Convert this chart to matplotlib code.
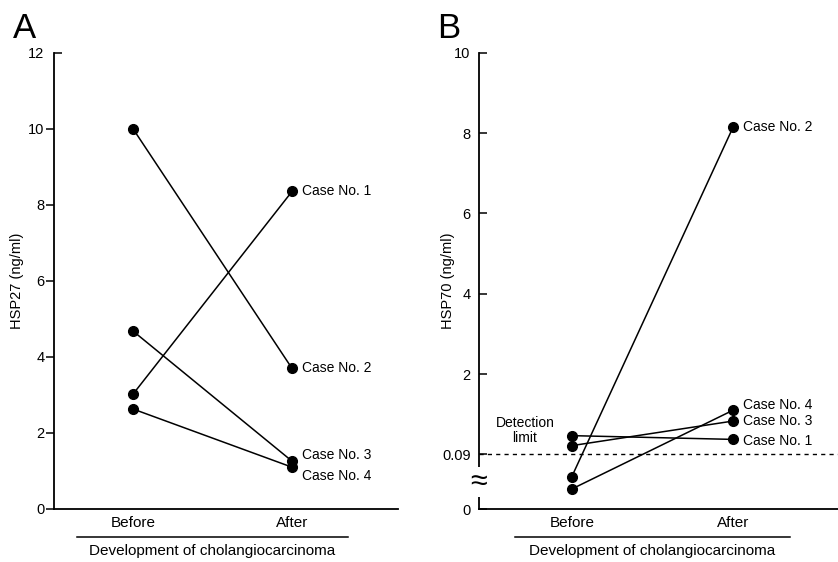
import numpy as np
import matplotlib
matplotlib.use('Agg')
import matplotlib.pyplot as plt
from matplotlib.ticker import FixedLocator, NullLocator
import matplotlib.transforms as mtransforms

plt.rcParams['font.family'] = ['Liberation Sans', 'DejaVu Sans']

# ---- data ----
stages = ['Before', 'After']
cases = ['Case No. 1', 'Case No. 2', 'Case No. 3', 'Case No. 4']

hsp27_before = [3.02, 10.0, 4.68, 2.63]
hsp27_after = [8.35, 3.70, 1.26, 1.10]

hsp70_before = [0.53, 0.053, 0.29, 0.033]
hsp70_after = [0.44, 8.15, 0.88, 1.14]

detection_limit = 0.09

hsp27_ticks = [0, 2, 4, 6, 8, 10]
hsp27_top = 12
hsp70_ticks = [0, 0.09, 2, 4, 6, 8, 10]
hsp70_ticklabels = ['0', '0.09', '2', '4', '6', '8', '10']

xlabel = 'Development of cholangiocarcinoma'

# label offsets (points) for the case names
offs_a = {'Case No. 1': 0, 'Case No. 2': 0, 'Case No. 3': 4.5, 'Case No. 4': -6.5}
offs_b = {'Case No. 1': -1.5, 'Case No. 2': 0, 'Case No. 3': 0, 'Case No. 4': 3.5}

# broken axis for panel B: 0-0.09 gets its own short segment
knots_v = [-10, 0, 0.09, 2, 10, 30]
knots_u = [-6144, 0, 55.3, 135, 456.6, 1260.6]


def fwd(v):
    return np.interp(v, knots_v, knots_u)


def inv(u):
    return np.interp(u, knots_u, knots_v)


fig = plt.figure(figsize=(8.38, 5.62), dpi=100)
axA = fig.add_axes([54 / 838, 1 - 509 / 562, 344 / 838, 456.3 / 562])
axB = fig.add_axes([479 / 838, 1 - 509.3 / 562, 359 / 838, 456.6 / 562])

x = np.arange(len(stages))


def style(ax):
    for s in ['top', 'right']:
        ax.spines[s].set_visible(False)
    for s in ['left', 'bottom']:
        ax.spines[s].set_linewidth(1.3)
    ax.set_xticks(x)
    ax.set_xticklabels(stages, fontsize=11)
    ax.tick_params(axis='x', length=0, pad=5)
    ax.yaxis.set_minor_locator(NullLocator())


def draw_cases(ax, before, after, offs):
    for name, b, a in zip(cases, before, after):
        ax.plot(x, [b, a], color='black', lw=1.1, marker='o', ms=7,
                clip_on=False, zorder=3)
        ax.annotate(name, (x[1], a), xytext=(7, offs[name]),
                    textcoords='offset points', ha='left', va='center',
                    fontsize=10)


def bottom_label(ax):
    tr = mtransforms.blended_transform_factory(ax.transData, ax.transAxes)
    ax.plot([-0.35, 1.35], [-0.0614, -0.0614], color='black', lw=1.1,
            transform=tr, clip_on=False)
    ax.text(0.5, -0.092, xlabel, transform=tr, ha='center', va='center',
            fontsize=11)


# ---- panel A ----
style(axA)
draw_cases(axA, hsp27_before, hsp27_after, offs_a)
axA.set_xlim(-0.497, 1.667)
axA.set_ylim(0, hsp27_top)
axA.set_yticks(hsp27_ticks)
axA.tick_params(axis='y', direction='out', length=5.5, width=1.1,
                labelsize=10.5, pad=1.5)
# top of the axis: cap tick pointing inwards
axA.set_yticks([hsp27_top], labels=[str(hsp27_top)], minor=True)
axA.tick_params(axis='y', which='minor', direction='in', length=5.5, width=1.1,
                labelsize=10.5, pad=7)
axA.set_ylabel('HSP27 (ng/ml)', fontsize=10.5)
axA.yaxis.set_label_coords(-0.087, 0.5)
bottom_label(axA)

# ---- panel B ----
style(axB)
axB.set_yscale('function', functions=(fwd, inv))
draw_cases(axB, hsp70_before, hsp70_after, offs_b)
axB.set_xlim(-0.575, 1.65)
axB.set_ylim(0, 10)
axB.yaxis.set_major_locator(FixedLocator(hsp70_ticks))
axB.set_yticklabels(hsp70_ticklabels)
axB.yaxis.set_minor_locator(NullLocator())
axB.tick_params(axis='y', direction='in', length=5.5, width=1.1,
                labelsize=10.5, pad=6)
axB.set_ylabel('HSP70 (ng/ml)', fontsize=10.5)
axB.yaxis.set_label_coords(-0.067, 0.5)
axB.axhline(detection_limit, color='black', lw=1.0, ls=(0, (3, 3)),
            clip_on=False)
axB.text(-0.29, 0.66, 'Detection\nlimit', ha='center', va='center',
         fontsize=10, linespacing=1.1)
# break mark on the y axis
trb = mtransforms.blended_transform_factory(axB.transAxes, axB.transData)
axB.text(0, 0.045, '\u2248', transform=trb, ha='center', va='center',
         fontsize=22, clip_on=False,
         bbox=dict(facecolor='white', edgecolor='none', pad=0.1))
bottom_label(axB)

fig.text(13 / 838, 1 - 38 / 562, 'A', fontsize=25, va='baseline')
fig.text(437 / 838, 1 - 38 / 562, 'B', fontsize=25, va='baseline')

fig.savefig('out.png', dpi=100)
